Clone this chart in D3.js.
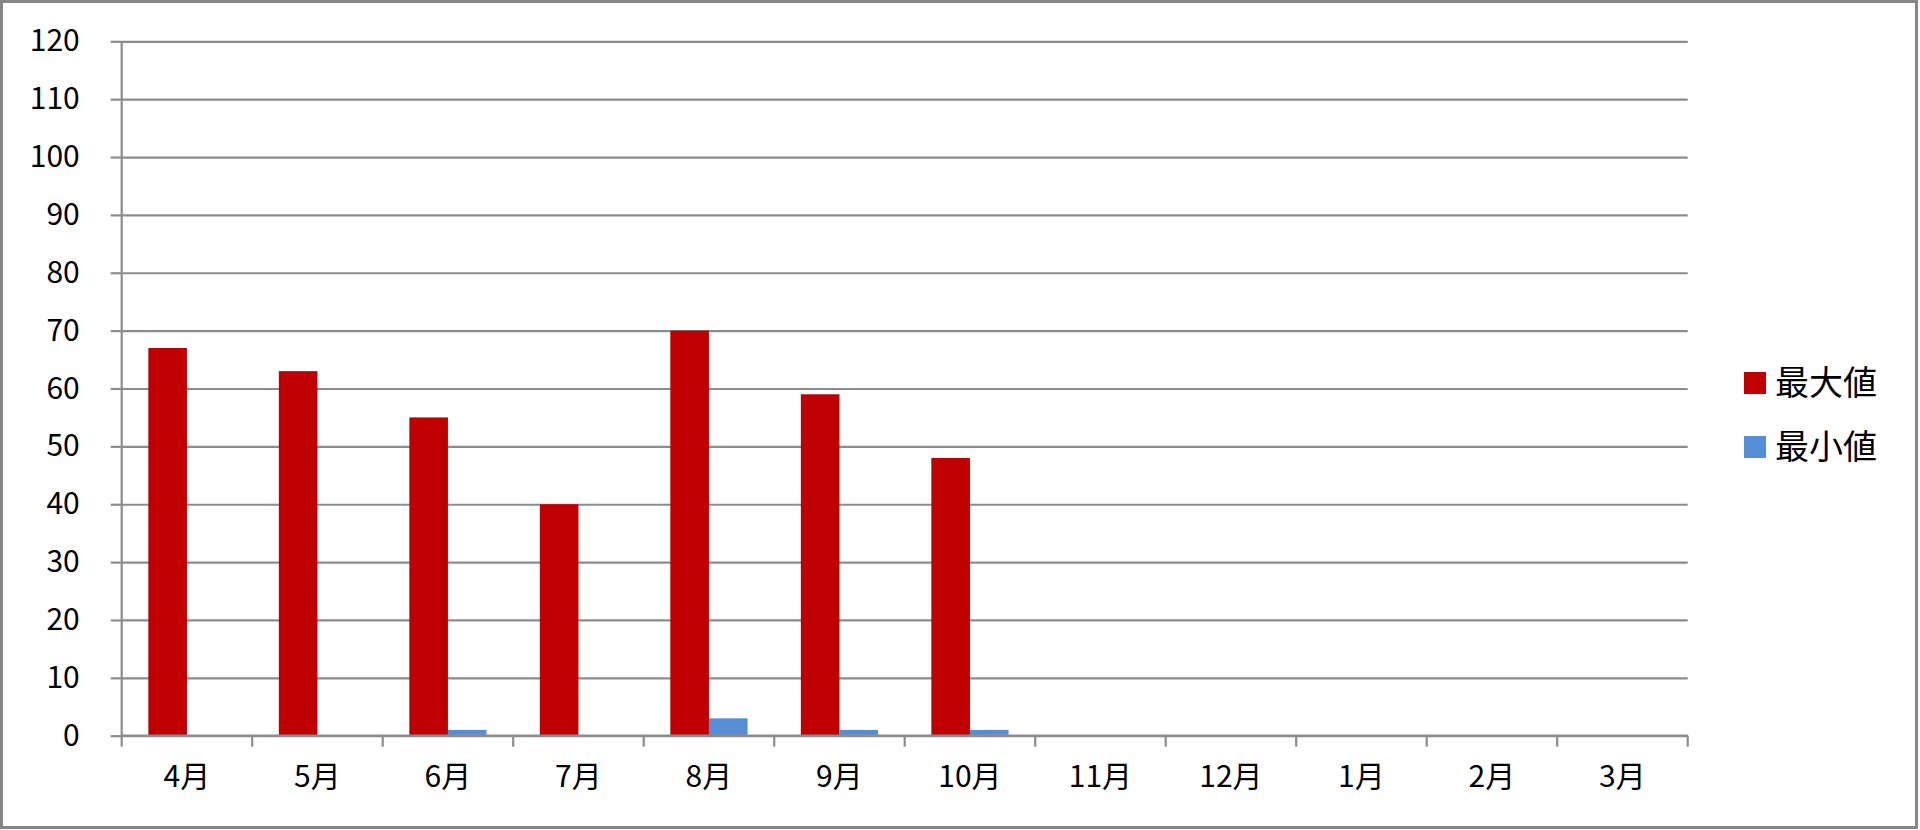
<!DOCTYPE html>
<html>
<head>
<meta charset="utf-8">
<script src="https://cdn.jsdelivr.net/npm/d3@7"></script>
<style>
html, body { margin: 0; padding: 0; background: #fff; }
svg { display: block; }
text { font-family: "Noto Sans CJK JP", "Noto Sans", sans-serif; fill: #000; }
</style>
</head>
<body>
<svg id="chart" width="1920" height="830"></svg>
<script>
const categories = ["4月","5月","6月","7月","8月","9月","10月","11月","12月","1月","2月","3月"];
const seriesNames = ["最大値","最小値"];
const maxValues = [67, 63, 55, 40, 70, 59, 48, null, null, null, null, null];
const minValues = [0, 0, 1, 0, 3, 1, 1, null, null, null, null, null];
const yTicks = [0,10,20,30,40,50,60,70,80,90,100,110,120];
const colors = ["#C00000", "#558ED5"];

(function () {
const svg = d3.select("#chart");
const W = 1920, H = 830;
const pLeft = 121.7, pRight = 1687.7, pTop = 41.3, pBottom = 735.7;

// outer border
svg.append("rect").attr("x", 1.5).attr("y", 1.5).attr("width", W - 5).attr("height", H - 4)
  .attr("fill", "#fff").attr("stroke", "#868686").attr("stroke-width", 3);

const x = d3.scaleBand().domain(categories).range([pLeft, pRight]).paddingInner(0).paddingOuter(0);
const y = d3.scaleLinear().domain([0, 120]).range([pBottom, pTop]);
const inner = d3.scaleBand().domain(seriesNames).range([0, x.bandwidth()]).paddingInner(0).paddingOuter(0.69);

// gridlines
const gridG = svg.append("g").attr("transform", `translate(${pLeft},0)`)
  .call(d3.axisLeft(y).tickValues(yTicks).tickSize(pLeft - pRight).tickFormat(""));
gridG.select(".domain").remove();
gridG.selectAll("line").attr("stroke", "#8c8c8c").attr("stroke-width", 2.2);

// y axis
const yAxis = svg.append("g").attr("transform", `translate(${pLeft},0)`)
  .call(d3.axisLeft(y).tickValues(yTicks).tickSize(11).tickPadding(31));
yAxis.select(".domain").attr("d", `M0,${pTop}V${pBottom}`).attr("stroke", "#8c8c8c").attr("stroke-width", 2.2);
yAxis.selectAll("line").attr("stroke", "#8c8c8c").attr("stroke-width", 2.2);
yAxis.selectAll("text").attr("font-size", 30).attr("font-family", "'Noto Sans', sans-serif").attr("fill", "#000");

// bars
const data = categories.map((c, i) => ({ c, vals: [maxValues[i], minValues[i]] }));
const groups = svg.append("g").selectAll("g").data(data).join("g")
  .attr("transform", d => `translate(${x(d.c)},0)`);
groups.selectAll("rect")
  .data(d => d.vals.map((v, j) => ({ v, name: seriesNames[j], j })).filter(e => e.v !== null && e.v > 0))
  .join("rect")
  .attr("x", e => inner(e.name))
  .attr("width", inner.bandwidth())
  .attr("y", e => y(e.v))
  .attr("height", e => y(0) - y(e.v))
  .attr("fill", e => colors[e.j]);

// x axis
const xAxis = svg.append("g").attr("transform", `translate(0,${pBottom})`)
  .call(d3.axisBottom(x).tickSize(0).tickPadding(30));
xAxis.select(".domain").attr("stroke", "#8c8c8c").attr("stroke-width", 2.2)
  .attr("d", `M${pLeft},0H${pRight}`);
xAxis.selectAll("text").attr("font-size", 30).attr("fill", "#000");
// boundary ticks
const bounds = categories.map(c => x(c)).concat([pRight]);
svg.append("g").selectAll("line").data(bounds).join("line")
  .attr("x1", d => d).attr("x2", d => d)
  .attr("y1", pBottom).attr("y2", pBottom + 11)
  .attr("stroke", "#8c8c8c").attr("stroke-width", 2.2);

// legend
const legend = svg.append("g").attr("transform", "translate(1744,372)");
const li = legend.selectAll("g").data(seriesNames).join("g")
  .attr("transform", (d, i) => `translate(0,${i * 64})`);
li.append("rect").attr("width", 22).attr("height", 22).attr("fill", (d, i) => colors[i]);
li.append("text").attr("x", 31).attr("y", 11).attr("dy", "0.36em")
  .attr("font-size", 34).text(d => d);
})();
</script>
</body>
</html>
